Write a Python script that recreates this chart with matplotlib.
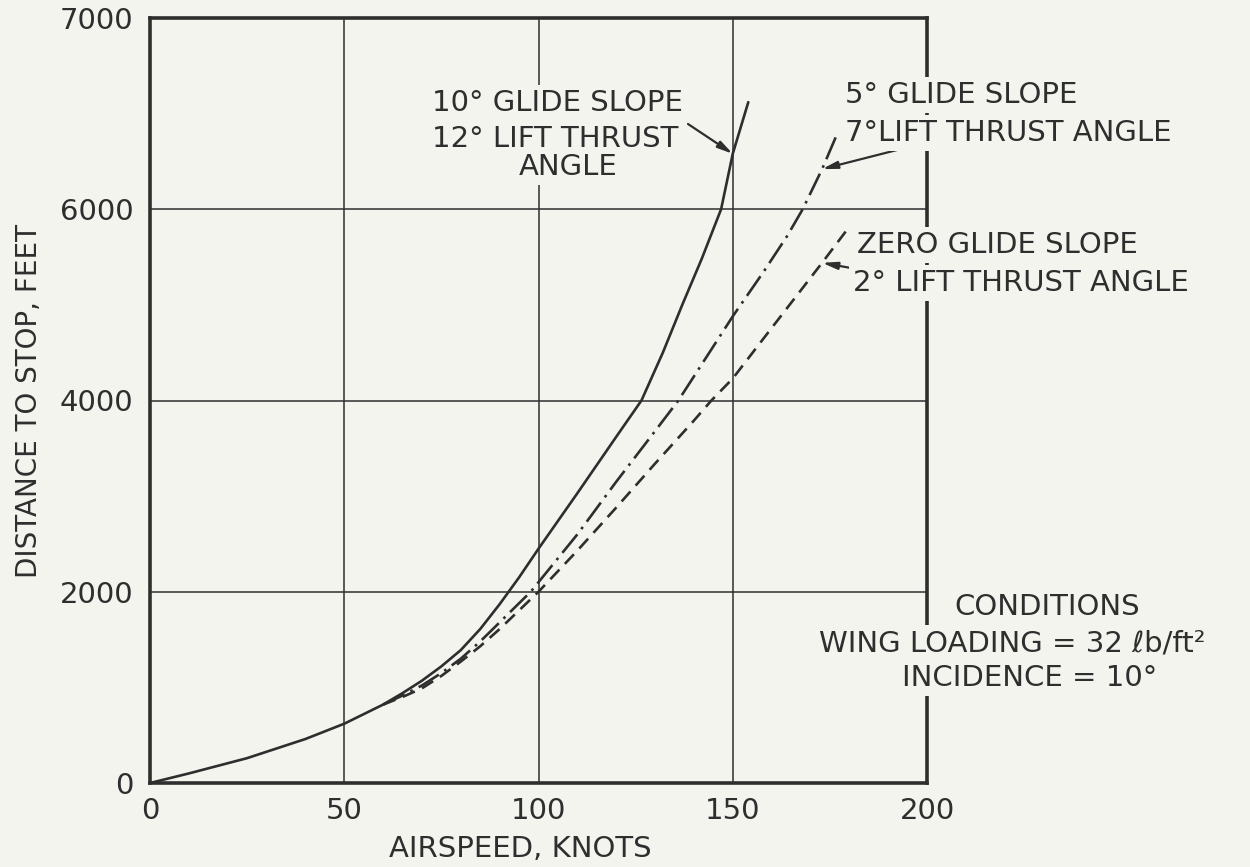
import matplotlib
matplotlib.use("Agg")
import matplotlib.pyplot as plt

# ---------------- data ----------------
speed_10 = [0, 10, 25, 40, 50, 60, 65, 70, 75, 80, 85, 90, 95, 100, 110, 120, 126.5, 132, 137, 142, 147, 150, 152, 154]
dist_10 = [0, 100, 260, 460, 620, 820, 940, 1070, 1220, 1390, 1610, 1870, 2150, 2450, 3030, 3620, 4000, 4500, 5000, 5480, 6000, 6580, 6850, 7120]

speed_5 = [60, 65, 70, 75, 80, 85, 90, 98, 110, 120, 130, 136, 143, 150, 158, 164, 168, 173, 177]
dist_5 = [820, 915, 1020, 1150, 1300, 1480, 1680, 2000, 2600, 3150, 3680, 4000, 4440, 4880, 5350, 5720, 6000, 6420, 6800]

speed_0 = [60, 65, 70, 75, 80, 85, 90, 100, 110, 120, 130, 140, 144.5, 150, 157, 165, 173, 179.5]
dist_0 = [820, 900, 990, 1120, 1270, 1430, 1610, 2000, 2430, 2880, 3340, 3790, 4000, 4230, 4600, 5020, 5440, 5790]

x_ticks = [0, 50, 100, 150, 200]
x_ticklabels = ["0", "50", "100", "150", "200"]
y_ticks = [0, 2000, 4000, 6000, 8000]
y_ticklabels = ["0", "2000", "4000", "6000", "7000"]

# ---------------- style ----------------
BG = "#f4f4ef"
INK = "#2e2e2e"
W, H = 1250, 867
plt.rcParams['font.family'] = ['DejaVu Sans']

fig = plt.figure(figsize=(W / 100, H / 100), dpi=100, facecolor=BG)


def fx(px):
    return px / W


def fy(py):
    return 1 - py / H


ax = fig.add_axes([fx(150), fy(783), fx(927) - fx(150), fy(18) - fy(783)])
ax.set_facecolor(BG)
ax.set_xlim(0, 200)
ax.set_ylim(0, 8000)

ax.set_xticks(x_ticks)
ax.set_xticklabels(x_ticklabels)
ax.set_yticks(y_ticks)
ax.set_yticklabels(y_ticklabels)
ax.tick_params(length=0, labelsize=21, labelcolor=INK)
ax.tick_params(axis='x', pad=10)
ax.tick_params(axis='y', pad=12)
ax.grid(True, color=INK, linewidth=1.1)
for s in ax.spines.values():
    s.set_linewidth(2.6)
    s.set_color(INK)
    s.set_zorder(1)

lw = 1.9
ax.plot(speed_10, dist_10, color=INK, lw=lw, solid_capstyle='round', solid_joinstyle='round', zorder=3)
ax.plot(speed_5, dist_5, color=INK, lw=lw, dashes=(9, 2.5, 1, 2.5), zorder=3)
ax.plot(speed_0, dist_0, color=INK, lw=lw, dashes=(5, 3), zorder=3)

ax.set_xlabel("AIRSPEED, KNOTS", fontsize=21, color=INK)
ax.xaxis.set_label_coords((520 - 150) / 777, -0.068)
ax.set_ylabel("DISTANCE TO STOP, FEET", fontsize=20, color=INK, labelpad=12)

tk = dict(fontsize=21, color=INK, va='center',
          bbox=dict(boxstyle='square,pad=0.15', fc=BG, ec='none'), zorder=5)

# 10 deg labels
fig.text(fx(432), fy(103), "10° GLIDE SLOPE", ha='left', **tk)
fig.text(fx(432), fy(139), "12° LIFT THRUST", ha='left', **tk)
fig.text(fx(568), fy(167), "ANGLE", ha='center', **tk)
# 5 deg labels
fig.text(fx(845), fy(95), "5° GLIDE SLOPE", ha='left', **tk)
fig.text(fx(845), fy(133), "7°LIFT THRUST ANGLE", ha='left', **tk)
# zero labels
fig.text(fx(857), fy(245), "ZERO GLIDE SLOPE", ha='left', **tk)
fig.text(fx(853), fy(283), "2° LIFT THRUST ANGLE", ha='left', **tk)
# conditions
fig.text(fx(1047), fy(607), "CONDITIONS", ha='center', **tk)
fig.text(fx(1012), fy(643), "WING LOADING = 32 ℓb/ft²", ha='center', **tk)
fig.text(fx(1030), fy(678), "INCIDENCE = 10°", ha='center', **tk)

ap = dict(arrowstyle='-|>,head_length=0.9,head_width=0.22', color=INK, lw=1.6,
          shrinkA=0, shrinkB=0)
ax.annotate("", xy=(150, 6580), xycoords='data',
            xytext=(fx(688), fy(124)), textcoords='figure fraction',
            arrowprops=ap, zorder=6, annotation_clip=False)
ax.annotate("", xy=(173, 6420), xycoords='data',
            xytext=(fx(897), fy(150)), textcoords='figure fraction',
            arrowprops=ap, zorder=6, annotation_clip=False)
ax.annotate("", xy=(173, 5440), xycoords='data',
            xytext=(fx(862), fy(270)), textcoords='figure fraction',
            arrowprops=ap, zorder=6, annotation_clip=False)

fig.savefig("out.png", dpi=100, facecolor=BG)
